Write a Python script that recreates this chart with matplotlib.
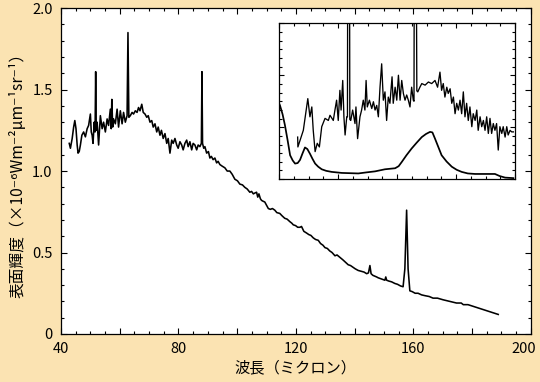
import matplotlib
matplotlib.use('Agg')
import matplotlib.pyplot as plt
from matplotlib.ticker import MultipleLocator, FuncFormatter
from matplotlib.transforms import ScaledTranslation

plt.rcParams['font.family'] = ['Noto Sans CJK JP', 'DejaVu Sans']

# main spectrum: wavelength (micron) and surface brightness (1e-6 W m-2 um-1 sr-1)
wavelength = [
    42.8, 43.2, 43.8, 44.3, 44.7, 45.1, 45.5, 45.8, 46.2, 46.6, 47.1, 47.7, 48.3, 48.9,
    49.4, 50.0, 50.3, 50.6, 50.9, 51.3, 51.6, 51.8, 52.0, 52.3, 52.8, 53.4, 54.0, 54.5,
    55.1, 55.7, 56.2, 56.8, 57.1, 57.3, 57.6, 57.9, 58.5, 59.1, 59.6, 60.2, 60.8, 61.3,
    61.9, 62.5, 62.8, 63.1, 63.6, 64.2, 64.7, 65.3, 65.9, 66.4, 66.9, 67.5, 68.0, 68.6,
    69.2, 69.7, 70.3, 70.9, 71.4, 72.0, 72.6, 73.1, 73.7, 74.2, 74.8, 75.4, 76.0, 76.5,
    77.1, 77.7, 78.2, 78.8, 79.4, 79.9, 80.5, 81.1, 81.6, 82.2, 82.8, 83.3, 83.9, 84.5,
    85.0, 85.6, 86.2, 86.7, 87.3, 87.8, 88.0, 88.2, 88.6, 89.0, 89.6, 90.2, 90.7, 91.2,
    91.8, 92.4, 93.0, 93.5, 94.1, 94.9, 95.8, 96.6, 97.5, 98.3, 99.2, 100.1, 100.9, 101.8,
    102.6, 103.4, 104.3, 104.9, 105.5, 106.0, 106.6, 107.0, 107.4, 107.9, 108.3, 108.8,
    109.4, 110.0, 110.6, 111.3, 112.0, 112.8, 113.5, 114.5, 115.3, 116.2, 117.0, 117.9,
    118.6, 119.1, 119.9, 120.6, 121.4, 121.9, 122.7, 123.6, 124.4, 125.1, 125.9, 126.7,
    127.6, 128.4, 129.2, 129.9, 130.7, 131.5, 132.3, 133.3, 134.0, 135.0, 136.0, 136.9,
    137.8, 138.6, 139.4, 140.2, 141.2, 142.2, 143.2, 144.1, 144.7, 145.2, 145.6, 146.2,
    146.9, 147.5, 148.0, 148.8, 149.6, 150.3, 150.6, 150.9, 151.6, 152.6, 153.7, 154.6,
    155.6, 156.5, 157.1, 157.7, 158.2, 158.8, 159.6, 160.6, 161.6, 162.8, 164.0, 165.4,
    166.7, 168.2, 170.1, 172.4, 174.7, 176.3, 177.0, 178.6, 180.3, 182.0, 183.7, 185.4,
    187.2, 188.9,
]
brightness = [
    1.17, 1.14, 1.20, 1.27, 1.31, 1.26, 1.16, 1.11, 1.12, 1.16, 1.22, 1.24, 1.21, 1.26,
    1.28, 1.35, 1.24, 1.22, 1.17, 1.30, 1.24, 1.61, 1.25, 1.30, 1.16, 1.34, 1.26, 1.30,
    1.24, 1.32, 1.28, 1.38, 1.26, 1.44, 1.27, 1.32, 1.29, 1.38, 1.27, 1.37, 1.29, 1.36,
    1.30, 1.34, 1.85, 1.33, 1.34, 1.36, 1.35, 1.37, 1.36, 1.39, 1.37, 1.41, 1.36, 1.35,
    1.33, 1.34, 1.30, 1.31, 1.27, 1.29, 1.24, 1.27, 1.22, 1.25, 1.20, 1.23, 1.17, 1.20,
    1.11, 1.19, 1.17, 1.20, 1.16, 1.14, 1.18, 1.16, 1.13, 1.17, 1.19, 1.15, 1.18, 1.13,
    1.17, 1.16, 1.13, 1.16, 1.15, 1.17, 1.61, 1.17, 1.14, 1.15, 1.11, 1.12, 1.08, 1.09,
    1.07, 1.08, 1.05, 1.06, 1.04, 1.03, 1.02, 1.00, 1.00, 0.98, 0.95, 0.94, 0.92, 0.915,
    0.90, 0.89, 0.87, 0.875, 0.86, 0.865, 0.87, 0.84, 0.86, 0.83, 0.82, 0.815,
    0.81, 0.79, 0.77, 0.765, 0.77, 0.76, 0.745, 0.74, 0.725, 0.71, 0.705, 0.69,
    0.68, 0.67, 0.665, 0.655, 0.655, 0.66, 0.63, 0.62, 0.61, 0.605, 0.59, 0.58,
    0.575, 0.555, 0.545, 0.53, 0.525, 0.51, 0.50, 0.48, 0.485, 0.47, 0.455, 0.44,
    0.425, 0.42, 0.41, 0.40, 0.39, 0.385, 0.38, 0.37, 0.375, 0.42, 0.37, 0.36,
    0.355, 0.35, 0.345, 0.34, 0.335, 0.33, 0.35, 0.33, 0.325, 0.32, 0.31, 0.305,
    0.295, 0.29, 0.40, 0.76, 0.40, 0.265, 0.26, 0.25, 0.25, 0.24, 0.235, 0.23,
    0.22, 0.22, 0.21, 0.20, 0.19, 0.19, 0.18, 0.18, 0.17, 0.16, 0.15, 0.14,
    0.13, 0.12,
]

# inset: noisy upper curve
inset_x = [
    7.9, 8.0, 10.3, 12.2, 13.1, 13.9, 14.5, 15.3, 16.2, 17.1, 18.1, 19.5, 20.9, 21.6,
    23.0, 23.7, 24.4, 25.1, 25.8, 26.3, 27.0, 27.5, 28.0, 28.7, 29.0, 29.1, 29.9, 30.0,
    30.4, 31.2, 32.2, 32.6, 33.3, 34.3, 35.0, 35.7, 36.4, 36.9, 37.4, 38.3, 39.3, 40.0,
    40.7, 41.4, 42.1, 42.8, 43.5, 44.2, 44.9, 45.6, 46.3, 47.0, 47.9, 48.4, 49.2, 49.9,
    50.6, 51.3, 52.0, 52.7, 53.4, 54.1, 54.8, 55.5, 56.2, 56.9, 57.2, 57.3, 58.2, 58.4,
    58.8, 59.7, 60.5, 61.9, 63.3, 64.7, 66.1, 67.2, 68.2, 68.9, 69.6, 70.3, 71.1, 71.7,
    72.5, 73.2, 73.9, 74.6, 75.3, 76.0, 76.7, 77.4, 78.1, 78.8, 79.5, 80.2, 80.9, 81.7,
    82.3, 83.1, 83.8, 84.4, 85.2, 85.9, 86.6, 87.3, 88.0, 88.7, 89.4, 90.1, 90.8, 91.5,
    92.2, 92.9, 93.6, 94.4, 95.0, 95.8, 96.5, 97.1, 97.9, 98.6, 99.3,
]
inset_y = [
    0.81, 0.62, 0.94, 1.55, 1.20, 1.39, 0.94, 0.53, 0.69, 0.62, 1.01, 1.17, 1.13, 1.23,
    1.13, 1.33, 1.52, 1.13, 1.71, 1.33, 1.90, 1.20, 0.85, 1.20, 1.20, 4.0, 4.0, 1.15,
    1.13, 1.33, 1.07, 1.39, 0.78, 1.20, 1.33, 1.52, 1.33, 1.90, 1.39, 1.52, 1.36, 1.49,
    1.33, 1.42, 1.20, 1.77, 2.22, 1.52, 1.68, 1.13, 1.58, 1.46, 1.97, 1.46, 1.77, 1.52,
    2.00, 1.52, 1.90, 1.65, 1.52, 1.62, 1.52, 1.39, 1.77, 1.52, 1.50, 4.0, 4.0, 1.70,
    1.68, 1.77, 1.84, 1.81, 1.87, 1.84, 1.90, 1.77, 2.06, 1.71, 1.84, 1.58, 1.77, 1.65,
    1.74, 1.46, 1.58, 1.26, 1.46, 1.33, 1.52, 1.26, 1.68, 1.20, 1.46, 1.13, 1.39, 1.01,
    1.26, 1.13, 1.33, 0.94, 1.20, 1.01, 1.13, 0.94, 1.20, 0.88, 1.17, 0.88, 1.07, 0.94,
    1.07, 0.56, 1.01, 0.88, 1.01, 0.81, 1.01, 0.85, 0.94, 0.91, 0.91,
]

# inset: smooth lower curve
filter_x = [
    0.0, 0.4, 1.5, 2.5, 3.6, 4.7, 5.8, 6.8, 7.9, 8.9, 10.0, 11.0, 12.0, 13.1, 14.2, 15.3,
    16.6, 18.1, 20.0, 22.3, 26.6, 33.6, 37.0, 40.7, 44.9, 49.2, 50.7, 52.0, 54.0, 56.2,
    58.3, 60.5, 62.3, 64.0, 65.0, 66.1, 67.5, 68.9, 71.0, 73.2, 75.3, 77.4, 80.0, 83.1,
    91.5, 93.5, 95.8, 99.3,
]
filter_y = [
    1.46, 1.42, 1.25, 1.04, 0.76, 0.46, 0.36, 0.30, 0.31, 0.37, 0.50, 0.61, 0.58, 0.49,
    0.39, 0.30, 0.24, 0.19, 0.16, 0.14, 0.12, 0.11, 0.13, 0.15, 0.19, 0.21, 0.25, 0.33,
    0.46, 0.59, 0.70, 0.81, 0.87, 0.91, 0.90, 0.78, 0.62, 0.46, 0.34, 0.24, 0.18, 0.14,
    0.11, 0.10, 0.10, 0.06, 0.03, 0.02,
]

bg = '#fbe3b2'
fig = plt.figure(figsize=(5.4, 3.82), dpi=100, facecolor=bg)
ax = fig.add_axes([0.113, 0.1257, 0.870, 0.853])
ax.plot(wavelength, brightness, color='black', lw=1.15)
ax.set_xlim(40, 200)
ax.set_ylim(0, 2.0)
ax.xaxis.set_major_locator(MultipleLocator(20))
ax.xaxis.set_minor_locator(MultipleLocator(5))
ax.xaxis.set_major_formatter(FuncFormatter(lambda v, p: f'{v:.0f}' if round(v) % 40 == 0 else ''))
ax.yaxis.set_major_locator(MultipleLocator(0.5))
ax.yaxis.set_minor_locator(MultipleLocator(0.1))
ax.yaxis.set_major_formatter(FuncFormatter(lambda v, p: '0' if abs(v) < 1e-9 else f'{v:.1f}'))
ax.tick_params(which='both', direction='in', top=True, right=True, width=0.8, labelsize=10.5)
ax.tick_params(which='major', length=4, pad=6)
ax.tick_params(which='minor', length=2.3)
for s in ax.spines.values():
    s.set_linewidth(0.9)
ax.set_xlabel('波長（ミクロン）', fontsize=11, labelpad=2)
ax.set_ylabel('表面輝度（×10⁻⁶Wm⁻²μm⁻¹sr⁻¹）', fontsize=11.3, labelpad=4)

ins = fig.add_axes([0.5167, 0.531, 0.437, 0.408])
ins.plot(inset_x, inset_y, color='black', lw=0.95)
ins.plot(filter_x, filter_y, color='black', lw=1.25)
ins.set_xlim(0, 100)
ins.set_ylim(0, 3)
ins.xaxis.set_major_locator(MultipleLocator(25))
ins.xaxis.set_minor_locator(MultipleLocator(6.25))
ins.yaxis.set_major_locator(MultipleLocator(1))
ins.yaxis.set_minor_locator(MultipleLocator(1 / 6))
ins.tick_params(which='both', direction='in', top=True, right=True, width=0.8,
                labelbottom=False, labelleft=False)
ins.tick_params(which='major', length=3.5)
ins.tick_params(which='minor', length=2)
for s in ins.spines.values():
    s.set_linewidth(0.9)

# pull the last x label ("200") inside the figure
fig.canvas.draw()
for tick in ax.xaxis.get_major_ticks():
    if tick.label1.get_text() == '200':
        tick.label1.set_transform(tick.label1.get_transform()
                                  + ScaledTranslation(-0.07, 0, fig.dpi_scale_trans))

fig.savefig('out.png', dpi=100, facecolor=bg)
